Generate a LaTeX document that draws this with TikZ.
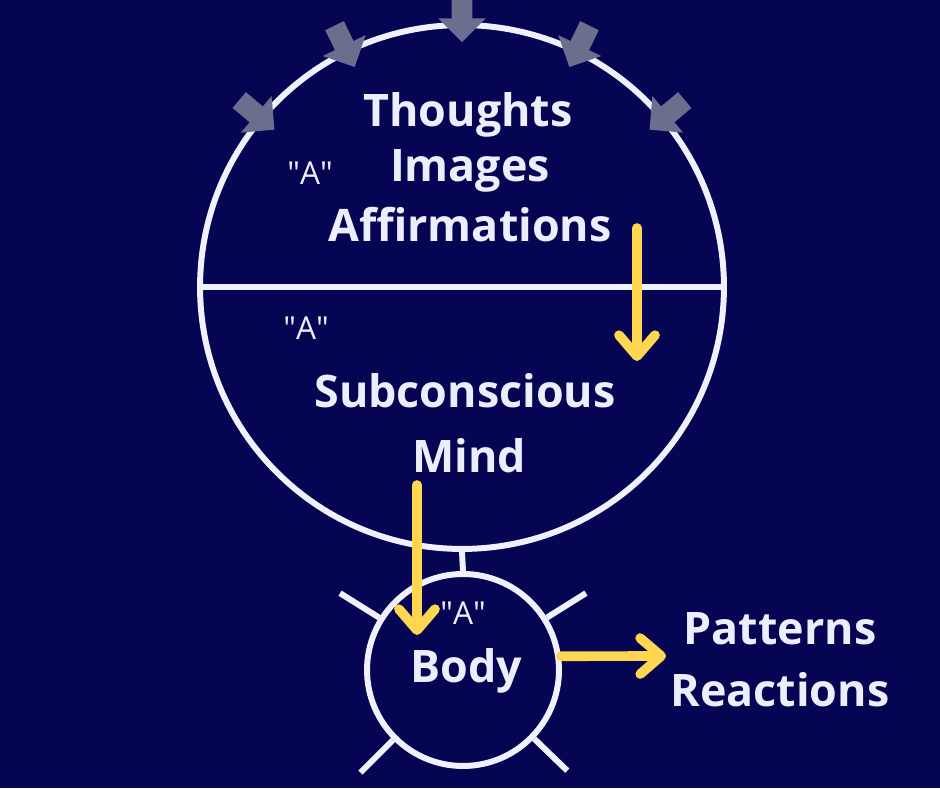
\documentclass[tikz,border=0pt]{standalone}
\usepackage{fontspec}
\setmainfont{Open Sans}
\usepackage{tikz}
\usetikzlibrary{calc,shapes.arrows,arrows.meta,positioning}
\definecolor{nightblue}{RGB}{6,5,84}
\definecolor{ringwhite}{RGB}{240,241,252}
\definecolor{textwhite}{RGB}{236,238,252}
\definecolor{pushgrey}{RGB}{107,110,140}
\definecolor{flowyellow}{RGB}{255,214,80}

\begin{document}
\begin{tikzpicture}[x=0.02cm, y=0.02cm,
        ring/.style={draw=ringwhite, line width=3.4pt, circle, inner sep=0pt},
        spoke/.style={draw=ringwhite, line width=3.4pt},
        push/.style={single arrow, fill=pushgrey, inner xsep=0pt, inner ysep=0.2cm, minimum height=0.92cm, single arrow head extend=0.27cm},
        flow/.style={draw=flowyellow, line width=5.5pt, line cap=round, -{Straight Barb[length=0.42cm, width=0.72cm, round]}},
        big/.style={text=textwhite, font=\bfseries\fontsize{25.5}{30}\selectfont, anchor=base, inner sep=0pt},
        small/.style={text=textwhite, font=\fontsize{18}{20}\selectfont, anchor=base, inner sep=0pt}
    ]
        \fill[nightblue] (0,0) rectangle (940,788);
        \useasboundingbox (0,0) rectangle (940,788);

        % Nodes
        \node[ring, minimum size=10.48cm] (mind) at (462,501) {};
        \node[ring, minimum size=3.84cm] (body) at (463,118) {};

        \node[big] (thoughts) at (468,661) {Thoughts};
        \node[big] (images) at (470,606) {Images};
        \node[big] (affirm) at (470,546) {Affirmations};
        \node[big] (subcon) at (465,380) {Subconscious};
        \node[big] (mindtext) at (469,315) {Mind};
        \node[big] (bodytext) at (466,105) {Body};
        \node[big] (patterns) at (780,143) {Patterns};
        \node[big] (reactions) at (780,81) {Reactions};

        \node[small] (aconscious) at (310,603) {\textquotedbl A\textquotedbl};
        \node[small] (asubcon) at (306,448) {\textquotedbl A\textquotedbl};
        \node[small] (abody) at (463,163) {\textquotedbl A\textquotedbl};

        % Rings and spokes
        \draw[spoke] (mind.west) -- (mind.east);
        \draw[spoke] (mind.south) -- (body.north);
        \foreach \a in {148,32,225,-44}
            \draw[spoke] (body.\a) -- ($(body.center)+(\a:2.9cm)$);

        % Incoming arrows
        \foreach \a in {40,64,90,116,140}
            \node[push, rotate=\a+180] (push\a) at ($(mind.center)+(\a:5.46cm)$) {};

        % Arrows
        \coordinate (dropstart) at (637,560);
        \coordinate (dropend) at (637,427);
        \coordinate (sinkstart) at (417,303);
        \coordinate (sinkend) at (417,153);
        \coordinate (patternsin) at (666,132);
        \draw[flow] (dropstart) -- (dropend);
        \draw[flow] (sinkstart) -- (sinkend);
        \draw[flow] (body.8) -- (patternsin);
    \end{tikzpicture}
\end{document}
